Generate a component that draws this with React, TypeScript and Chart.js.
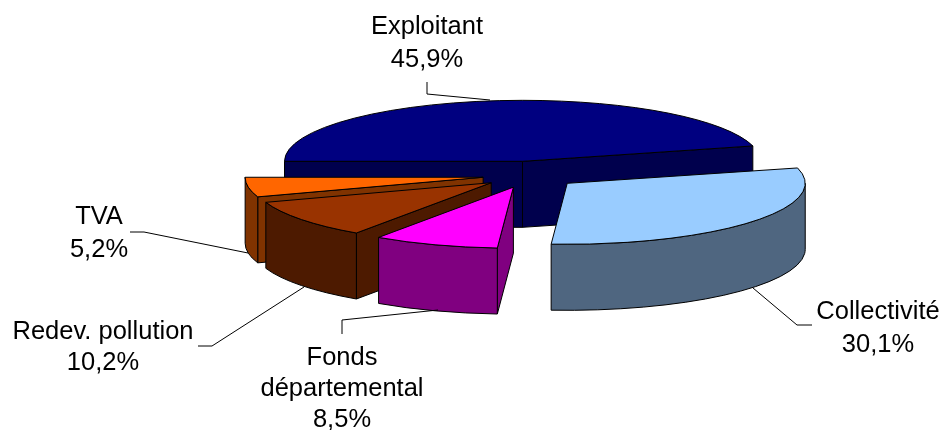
import React, { useEffect, useRef } from "react";
import { Chart, registerables } from "chart.js";

Chart.register(...registerables);

const categories = ["Exploitant", "Collectivité", "Fonds départemental", "Redev. pollution", "TVA"];
const shares = [45.9, 30.1, 8.5, 10.2, 5.2];
const explosion = [55, 49, 49, 48, 47];
const topColors = ["#000080", "#99CCFF", "#FF00FF", "#993300", "#FF6600"];
const sideColors = ["#00004D", "#4F6680", "#800080", "#4D1A00", "#803300"];
const paintOrder = [0, 4, 3, 2, 1];

const labelLines = [["Exploitant"], ["Collectivité"], ["Fonds", "départemental"], ["Redev. pollution"], ["TVA"]];
const labelAnchors = [
  { x: 427, y: 26.5, lh: 33 },
  { x: 878, y: 311.5, lh: 33 },
  { x: 342, y: 358, lh: 31 },
  { x: 103, y: 332, lh: 31 },
  { x: 99, y: 217, lh: 33 },
];
const leaders = [
  [[427, 82], [427, 94], [490, 100]],
  [[812, 325], [797, 325], [753, 288]],
  [[342, 334], [342, 320], [438, 310]],
  [[198, 346], [212, 346], [304, 287]],
  [[130, 232], [144, 232], [248, 253]],
];

const CX = 529.5;
const CY = 175.3;
const RX = 238;
const RY = 61;
const DEPTH = 66;

const pie3d = {
  id: "pie3d",
  beforeDatasetsDraw(chart: any) {
    const ctx = chart.ctx as CanvasRenderingContext2D;
    const arcs = chart.getDatasetMeta(0).data;
    const tilt = RY / RX;
    ctx.lineJoin = "round";
    for (const i of paintOrder) {
      const el = arcs[i];
      const s = el.startAngle;
      const e = el.endAngle;
      const mid = (s + e) / 2;
      const px = CX + Math.cos(mid) * explosion[i];
      const py = CY + Math.sin(mid) * explosion[i] * tilt;
      const rim = (a: number) => [px + Math.cos(a) * RX, py + Math.sin(a) * RY];
      ctx.strokeStyle = "#000";
      ctx.lineWidth = 1;
      ctx.fillStyle = sideColors[i];
      // radial cut faces, only those turned towards the viewer
      const faces: number[] = [];
      if (Math.cos(s) < 0) faces.push(s);
      if (Math.cos(e) > 0) faces.push(e);
      for (const a of faces) {
        const [qx, qy] = rim(a);
        ctx.beginPath();
        ctx.moveTo(px, py);
        ctx.lineTo(qx, qy);
        ctx.lineTo(qx, qy + DEPTH);
        ctx.lineTo(px, py + DEPTH);
        ctx.closePath();
        ctx.fill();
        ctx.stroke();
      }
      // outer wall, front half only
      const a0 = Math.max(s, 0);
      const a1 = Math.min(e, Math.PI);
      if (a1 > a0) {
        ctx.beginPath();
        ctx.ellipse(px, py, RX, RY, 0, a0, a1);
        ctx.ellipse(px, py + DEPTH, RX, RY, 0, a1, a0, true);
        ctx.closePath();
        ctx.fill();
        ctx.stroke();
      }
      // top face: the library's arc under a tilt transform
      ctx.save();
      ctx.translate(px, py);
      ctx.scale(RX / el.outerRadius, RY / el.outerRadius);
      ctx.translate(-el.x, -el.y);
      el.draw(ctx);
      ctx.restore();
      ctx.beginPath();
      ctx.moveTo(px, py);
      ctx.ellipse(px, py, RX, RY, 0, s, e);
      ctx.closePath();
      ctx.stroke();
    }
    return false;
  },
  afterDraw(chart: any) {
    const ctx = chart.ctx as CanvasRenderingContext2D;
    ctx.save();
    ctx.strokeStyle = "#000";
    ctx.lineWidth = 1;
    for (const l of leaders) {
      ctx.beginPath();
      l.forEach(([x, y], j) => (j ? ctx.lineTo(x, y) : ctx.moveTo(x, y)));
      ctx.stroke();
    }
    ctx.fillStyle = "#000";
    ctx.font = '25.5px "Liberation Sans"';
    ctx.textAlign = "center";
    ctx.textBaseline = "middle";
    labelLines.forEach((lines, i) => {
      const a = labelAnchors[i];
      const all = [...lines, shares[i].toFixed(1).replace(".", ",") + "%"];
      all.forEach((t, j) => ctx.fillText(t, a.x, a.y + j * a.lh));
    });
    ctx.restore();
  },
};

export default function App() {
  const ref = useRef<HTMLCanvasElement>(null);
  useEffect(() => {
    const chart = new Chart(ref.current!, {
      type: "pie",
      data: {
        labels: categories,
        datasets: [{ data: shares, backgroundColor: topColors, borderWidth: 0 }],
      },
      options: {
        animation: false,
        responsive: false,
        rotation: -90,
        layout: { padding: 0 },
        plugins: { legend: { display: false }, tooltip: { enabled: false } },
      },
      plugins: [pie3d],
    } as any);
    return () => chart.destroy();
  }, []);
  return (
    <div style={{ position: "absolute", left: 0, top: 0, width: 941, height: 430, background: "#fff" }}>
      <canvas ref={ref} width={941} height={430} style={{ display: "block" }} />
    </div>
  );
}
